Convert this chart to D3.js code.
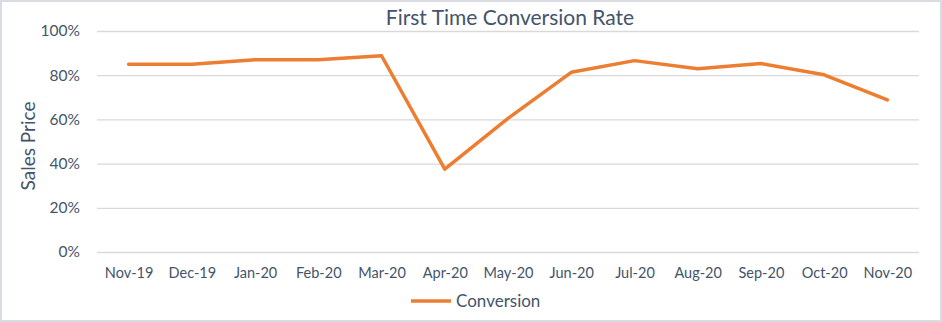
<!DOCTYPE html>
<html>
<head>
<meta charset="utf-8">
<script src="https://cdn.jsdelivr.net/npm/d3@7"></script>
<style>
  html, body { margin: 0; padding: 0; background: #ffffff; }
  svg { display: block; }
  text { font-family: Lato, "Open Sans", sans-serif; }
</style>
</head>
<body>
<svg id="chart" width="942" height="322"></svg>
<script>
// Monthly first-time conversion rate (%)
const months = ["Nov-19", "Dec-19", "Jan-20", "Feb-20", "Mar-20", "Apr-20", "May-20",
                "Jun-20", "Jul-20", "Aug-20", "Sep-20", "Oct-20", "Nov-20"];
const conversion = [85, 85, 87, 87, 88.8, 37.5, 60.5, 81.3, 86.6, 82.9, 85.3, 80.2, 68.8];
const yTicks = [0, 20, 40, 60, 80, 100];

const W = 942, H = 322;
const svg = d3.select("#chart");
const textColor = "#44546a";
const gridColor = "#d9d9d9";
const lineColor = "#ed7d31";

// chart frame
svg.append("rect")
  .attr("x", 1).attr("y", 1).attr("width", W - 2).attr("height", H - 2)
  .attr("fill", "#ffffff").attr("stroke", "#d9dde3").attr("stroke-width", 2);

const plot = { left: 97, right: 919, top: 31, bottom: 252 };

const x = d3.scalePoint().domain(months).range([plot.left, plot.right]).padding(0.5);
const y = d3.scaleLinear().domain([0, 100]).range([plot.bottom, plot.top]);

// horizontal gridlines + y labels
const yAxis = d3.axisLeft(y).tickValues(yTicks).tickFormat(d => d + "%")
  .tickSize(-(plot.right - plot.left)).tickPadding(17);
const gy = svg.append("g").attr("transform", `translate(${plot.left},0)`).call(yAxis);
gy.select(".domain").remove();
gy.selectAll(".tick line").attr("stroke", gridColor).attr("stroke-width", 1.3);
gy.selectAll(".tick text").attr("fill", textColor).attr("font-size", 15.5);

// x labels
const xAxis = d3.axisBottom(x).tickSize(0).tickPadding(16);
const gx = svg.append("g").attr("transform", `translate(0,${plot.bottom})`).call(xAxis);
gx.select(".domain").remove();
gx.selectAll(".tick text").attr("fill", textColor).attr("font-size", 14.5);

// series line
const line = d3.line().x((d, i) => x(months[i])).y(d => y(d));
svg.append("path")
  .datum(conversion)
  .attr("d", line)
  .attr("fill", "none")
  .attr("stroke", lineColor)
  .attr("stroke-width", 3.5)
  .attr("stroke-linejoin", "round")
  .attr("stroke-linecap", "round");

// title
svg.append("text")
  .attr("x", 510).attr("y", 25)
  .attr("text-anchor", "middle")
  .attr("fill", textColor).attr("font-size", 21)
  .text("First Time Conversion Rate");

// y-axis title
svg.append("text")
  .attr("transform", `translate(35,146) rotate(-90)`)
  .attr("text-anchor", "middle")
  .attr("fill", textColor).attr("font-size", 19)
  .text("Sales Price");

// legend
const legY = 301;
svg.append("line")
  .attr("x1", 411).attr("x2", 451).attr("y1", legY).attr("y2", legY)
  .attr("stroke", lineColor).attr("stroke-width", 3.5);
svg.append("text")
  .attr("x", 456).attr("y", legY + 6)
  .attr("fill", textColor).attr("font-size", 17)
  .text("Conversion");
</script>
</body>
</html>
